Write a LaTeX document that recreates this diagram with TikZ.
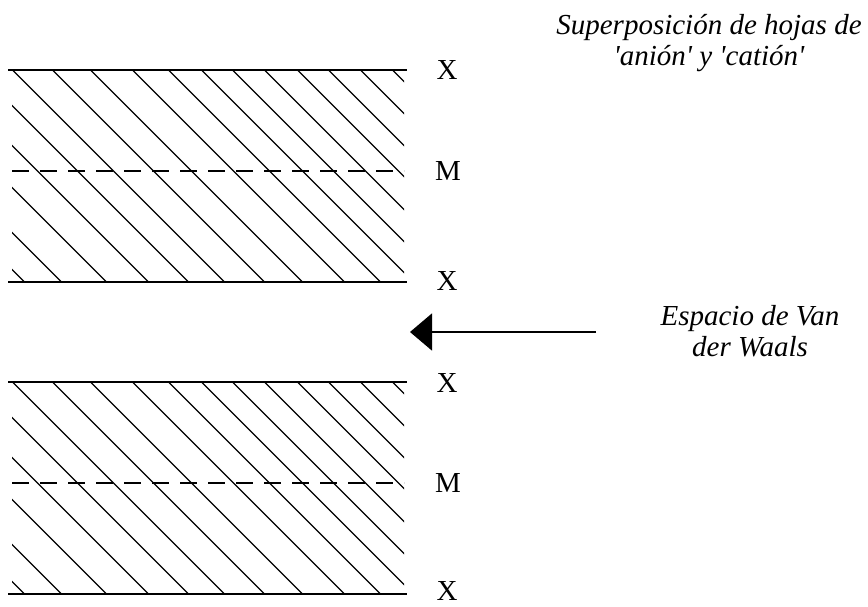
\documentclass[tikz,border=0pt]{standalone}
\usepackage{fontspec}
\setmainfont{Liberation Serif}
\usetikzlibrary{arrows.meta}
\tikzset{
  edgeline/.style={line width=2pt, line cap=butt},
  hatchline/.style={line width=1.1pt},
  midline/.style={line width=1.8pt, dash pattern=on 17pt off 11pt},
  layerlabel/.style={font=\fontsize{29}{33}\selectfont, inner sep=0pt, anchor=base},
  notelabel/.style={font=\fontsize{29}{31}\selectfont\itshape, align=center, inner sep=0pt, anchor=north},
  gaparrow/.style={line width=1.5pt, -{Triangle[length=22pt,width=37pt]}}
}
\newcommand{\hatchblock}[1]{%
  \begin{scope}
    \clip (12,#1) rectangle (404,#1+212);
    \foreach \o in {-200,-163,-118,-76,-36,0,40,78,120,156,189,220,252,285,316,348,380}
      \draw[hatchline] (12+\o,#1) -- (12+\o+212,#1+212);
  \end{scope}
  \draw[edgeline] (8,#1) -- (407,#1);
  \draw[edgeline] (8,#1+212) -- (407,#1+212);
  \draw[midline] (12,#1+101.5) -- (404,#1+101.5);
}
\begin{document}
\begin{tikzpicture}[x=1pt,y=-1pt]
  \useasboundingbox (0,0) rectangle (868,606);
  \hatchblock{69.5}
  \hatchblock{381.5}
  % labels
  \node[layerlabel] (x1) at (447,79.5) {X};
  \node[layerlabel] (m1) at (448,180) {M};
  \node[layerlabel] (x2) at (447,290) {X};
  \node[layerlabel] (x3) at (447,392) {X};
  \node[layerlabel] (m2) at (448,492) {M};
  \node[layerlabel] (x4) at (447,600) {X};
  % notes
  \node[notelabel] (sup) at (709,14) {Superposición de hojas de\\\textquotesingle anión\textquotesingle{} y \textquotesingle catión\textquotesingle};
  \node[notelabel] (vdw) at (750,305) {Espacio de Van\\der Waals};
  % arrow
  \coordinate (astart) at (596,332);
  \coordinate (aend) at (410,332);
  \draw[gaparrow] (astart) -- (aend);
\end{tikzpicture}
\end{document}
